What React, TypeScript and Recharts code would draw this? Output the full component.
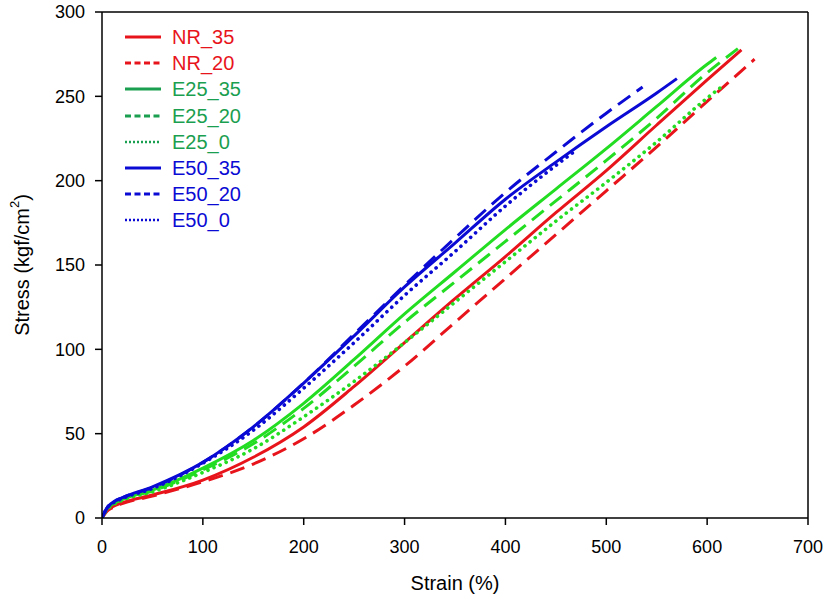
import { LineChart, Line, XAxis, YAxis, ReferenceLine, Label } from 'recharts';

// strain (%) and stress (kgf/cm2)
const NR_35_STRAIN = [0, 5, 10, 20, 50, 100, 150, 200, 250, 300, 350, 400, 450, 500, 550, 600, 634];
const NR_35_STRESS = [0, 4.5, 6.5, 9, 13.6, 22.5, 36, 54, 78, 104, 130, 155, 181, 206, 233, 259.7, 277.5];

const NR_20_STRAIN = [0, 5, 10, 20, 50, 100, 150, 200, 250, 300, 350, 400, 450, 500, 550, 600, 647];
const NR_20_STRESS = [0, 4, 6, 8.5, 13, 21.5, 32, 47, 67, 90, 116, 142, 168, 194, 220, 247, 272];

const E25_35_STRAIN = [0, 5, 10, 20, 50, 100, 150, 200, 250, 300, 350, 400, 450, 500, 550, 600, 609];
const E25_35_STRESS = [0, 5.5, 8, 11, 16.5, 29.6, 46, 68, 94, 121, 146, 171, 195, 219, 244, 269, 273];

const E25_20_STRAIN = [0, 5, 10, 20, 50, 100, 150, 200, 250, 300, 350, 400, 450, 500, 550, 600, 631];
const E25_20_STRESS = [0, 5.5, 8, 11, 16, 28.5, 44, 65, 90, 116, 140, 164, 188, 212, 237, 264, 278.5];

const E25_0_STRAIN = [0, 5, 10, 20, 50, 100, 150, 200, 250, 300, 350, 400, 450, 500, 550, 600, 614];
const E25_0_STRESS = [0, 5, 7.5, 10.5, 15.5, 27, 41, 60, 81, 104, 128, 152, 176, 199, 223, 249, 255.5];

const E50_35_STRAIN = [0, 5, 10, 20, 50, 100, 150, 200, 250, 300, 350, 400, 450, 500, 550, 570];
const E50_35_STRESS = [0, 6, 9, 12, 18.5, 33, 54, 80, 108, 137, 163, 189, 211, 232, 252, 260.5];

const E50_20_STRAIN = [0, 5, 10, 20, 50, 100, 150, 200, 250, 300, 350, 400, 450, 500, 536];
const E50_20_STRESS = [0, 6, 9, 12, 18, 33, 54, 80, 109, 138, 166, 193, 217, 240, 255.5];

const E50_0_STRAIN = [0, 5, 10, 20, 50, 100, 150, 200, 250, 300, 350, 400, 450, 470];
const E50_0_STRESS = [0, 6, 8.5, 11.5, 17.5, 32.5, 52, 77, 104, 132, 158, 185, 209, 218];

const X_TICKS = [0, 100, 200, 300, 400, 500, 600, 700];
const Y_TICKS = [0, 50, 100, 150, 200, 250, 300];

const RED = '#e8141c';
const GREEN = '#22dd22';
const GREEN_LEGEND = '#1a9e4f';
const BLUE = '#0a0ad4';

const SOLID = '';
const DASHED = '15 8';
const DOTTED = '0.1 6.5';

function toPoints(strain: number[], stress: number[]) {
  return strain.map((s, i) => ({ strain: s, stress: stress[i] }));
}

type Series = {
  name: string;
  strain: number[];
  stress: number[];
  color: string;
  legendColor: string;
  dash: string;
};

const SERIES: Series[] = [
  { name: 'NR_35', strain: NR_35_STRAIN, stress: NR_35_STRESS, color: RED, legendColor: RED, dash: SOLID },
  { name: 'NR_20', strain: NR_20_STRAIN, stress: NR_20_STRESS, color: RED, legendColor: RED, dash: DASHED },
  { name: 'E25_35', strain: E25_35_STRAIN, stress: E25_35_STRESS, color: GREEN, legendColor: GREEN_LEGEND, dash: SOLID },
  { name: 'E25_20', strain: E25_20_STRAIN, stress: E25_20_STRESS, color: GREEN, legendColor: GREEN_LEGEND, dash: DASHED },
  { name: 'E25_0', strain: E25_0_STRAIN, stress: E25_0_STRESS, color: GREEN, legendColor: GREEN_LEGEND, dash: DOTTED },
  { name: 'E50_35', strain: E50_35_STRAIN, stress: E50_35_STRESS, color: BLUE, legendColor: BLUE, dash: SOLID },
  { name: 'E50_20', strain: E50_20_STRAIN, stress: E50_20_STRESS, color: BLUE, legendColor: BLUE, dash: DASHED },
  { name: 'E50_0', strain: E50_0_STRAIN, stress: E50_0_STRESS, color: BLUE, legendColor: BLUE, dash: DOTTED },
];

const FONT = '"Liberation Sans", Arial, sans-serif';

// legend drawn as an overlay so it does not shrink the plot area
function LegendBox() {
  return (
    <div style={{ position: 'absolute', left: 123, top: 24, fontFamily: FONT, fontSize: 20 }}>
      {SERIES.map((s) => {
        const dotted = s.dash === DOTTED;
        return (
          <div key={s.name} style={{ display: 'flex', alignItems: 'center', height: 26.2 }}>
            <svg width={40} height={10} style={{ marginRight: 9 }}>
              <line
                x1={2}
                x2={38}
                y1={5}
                y2={5}
                stroke={s.legendColor}
                strokeWidth={dotted ? 2.5 : 3}
                strokeDasharray={s.dash === DASHED ? '6 3.5' : dotted ? '2 2' : undefined}
              />
            </svg>
            <span style={{ color: s.legendColor, lineHeight: '20px' }}>{s.name}</span>
          </div>
        );
      })}
    </div>
  );
}

function YTitle() {
  const cx = 22;
  const cy = 265;
  return (
    <text
      x={cx}
      y={cy}
      transform={`rotate(-90, ${cx}, ${cy})`}
      textAnchor="middle"
      dominantBaseline="central"
      fontFamily={FONT}
      fontSize={20}
      fill="#000"
    >
      Stress (kgf/cm<tspan dy={-8} fontSize={13}>2</tspan>
      <tspan dy={8}>)</tspan>
    </text>
  );
}

export default function App() {
  return (
    <div style={{ position: 'absolute', left: 0, top: 0, width: 827, height: 607, background: '#fff' }}>
      <LineChart width={827} height={607} margin={{ top: 12, right: 19, left: 0, bottom: 29 }}>
        <XAxis
          type="number"
          dataKey="strain"
          domain={[0, 700]}
          ticks={X_TICKS}
          allowDataOverflow
          height={60}
          tickSize={7}
          tickMargin={15}
          stroke="#000"
          strokeWidth={1.5}
          tick={{ fill: '#000', fontSize: 18, fontFamily: FONT }}
        >
          <Label
            value="Strain (%)"
            position="insideBottom"
            offset={-12}
            style={{ fontFamily: FONT, fontSize: 20, fill: '#000' }}
          />
        </XAxis>
        <YAxis
          type="number"
          dataKey="stress"
          domain={[0, 300]}
          ticks={Y_TICKS}
          allowDataOverflow
          width={102}
          tickSize={7}
          tickMargin={10}
          stroke="#000"
          strokeWidth={1.5}
          tick={{ fill: '#000', fontSize: 18, fontFamily: FONT }}
        >
          <Label content={<YTitle />} />
        </YAxis>
        <ReferenceLine x={700} stroke="#000" strokeWidth={1.5} ifOverflow="visible" />
        <ReferenceLine y={300} stroke="#000" strokeWidth={1.5} ifOverflow="visible" />
        {SERIES.map((s) => (
          <Line
            key={s.name}
            name={s.name}
            data={toPoints(s.strain, s.stress)}
            dataKey="stress"
            type="monotone"
            stroke={s.color}
            strokeWidth={s.dash === DOTTED ? 3.6 : 3}
            strokeDasharray={s.dash || undefined}
            strokeLinecap={s.dash === DOTTED ? 'round' : 'butt'}
            dot={false}
            activeDot={false}
            isAnimationActive={false}
          />
        ))}
      </LineChart>
      <LegendBox />
    </div>
  );
}
